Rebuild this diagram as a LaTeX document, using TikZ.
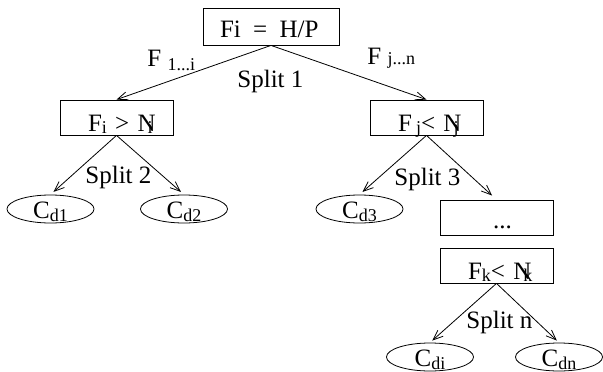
\documentclass[tikz,border=0pt]{standalone}
\usepackage{fontspec}
\setmainfont{Liberation Serif}
\usetikzlibrary{arrows.meta,shapes.geometric}
% smaller, slightly lowered index text
\newcommand\lowsub[2][2pt]{\raisebox{-#1}{\fontsize{18}{20}\selectfont #2}}
\begin{document}
\begin{tikzpicture}[x=1pt,y=-1pt, line width=0.8pt,
  font=\fontsize{25}{30}\selectfont,
  box/.style={draw, rectangle, inner sep=0pt, text width=113pt, align=left,
    text height=31pt, text depth=4pt},
  leaf/.style={draw, ellipse, inner sep=0pt, minimum width=87pt, minimum height=28pt,
    text height=18.5pt, text depth=0.5pt},
  edge/.style={-{Straight Barb[length=10pt,width=8pt]}},
  lbl/.style={anchor=base west, inner sep=0pt}]
\useasboundingbox (0,0) rectangle (603,372);

% decision boxes
\node[box, text width=136pt, text height=29pt, text depth=8pt] (root) at (271,26.5)
  {\hspace*{17pt}Fi\hspace{4pt} = \hspace{4pt}H/P};
\node[box] (a) at (116.5,117.5) {\hspace*{28pt}F\lowsub{i} > N\kern-8pt\lowsub{i}};
\node[box] (b) at (426.5,117.5) {\hspace*{28pt}F\,\lowsub{j}< N\kern-8pt\lowsub{j}};
\node[box, text height=28pt, text depth=7pt] (dots) at (496.5,217.5) {\hspace*{53pt}...};
\node[box] (c) at (496.5,265.5) {\hspace*{28pt}F\lowsub{k}< N\kern-8pt\lowsub{k}};

% class leaves
\node[leaf] (d1) at (50.5,209) {C\lowsub[3pt]{d1}};
\node[leaf] (d2) at (184,209) {C\lowsub[3pt]{d2}};
\node[leaf] (d3) at (359.5,209) {C\lowsub[3pt]{d3}};
\node[leaf] (di) at (430,357) {C\lowsub[3pt]{di}};
\node[leaf] (dn) at (559,357) {C\lowsub[3pt]{dn}};

% splits
\draw[edge] (root.south) -- (a.north);
\draw[edge] (root.south) -- (b.north);
\draw[edge, shorten >=4pt] (a.south) -- (d1.north);
\draw[edge, shorten >=4pt] (a.south) -- (d2.north);
\draw[edge, shorten >=4pt] (b.south) -- (d3.north);
\draw[edge, shorten >=6pt] (b.south) -- (dots.north);
\draw[edge, shorten >=3pt] (c.south) -- (di.north);
\draw[edge, shorten >=3pt] (c.south) -- (dn.north);

% edge labels
\node[lbl] (l1) at (147,66) {F \lowsub[5pt]{1...i}};
\node[lbl] (l2) at (367,64) {F \lowsub[0pt]{j...n}};
\node[lbl] (s1) at (237,87) {Split 1};
\node[lbl] (s2) at (85,183) {Split 2};
\node[lbl] (s3) at (394,185) {Split 3};
\node[lbl] (sn) at (466,328) {Split n};
\end{tikzpicture}
\end{document}
